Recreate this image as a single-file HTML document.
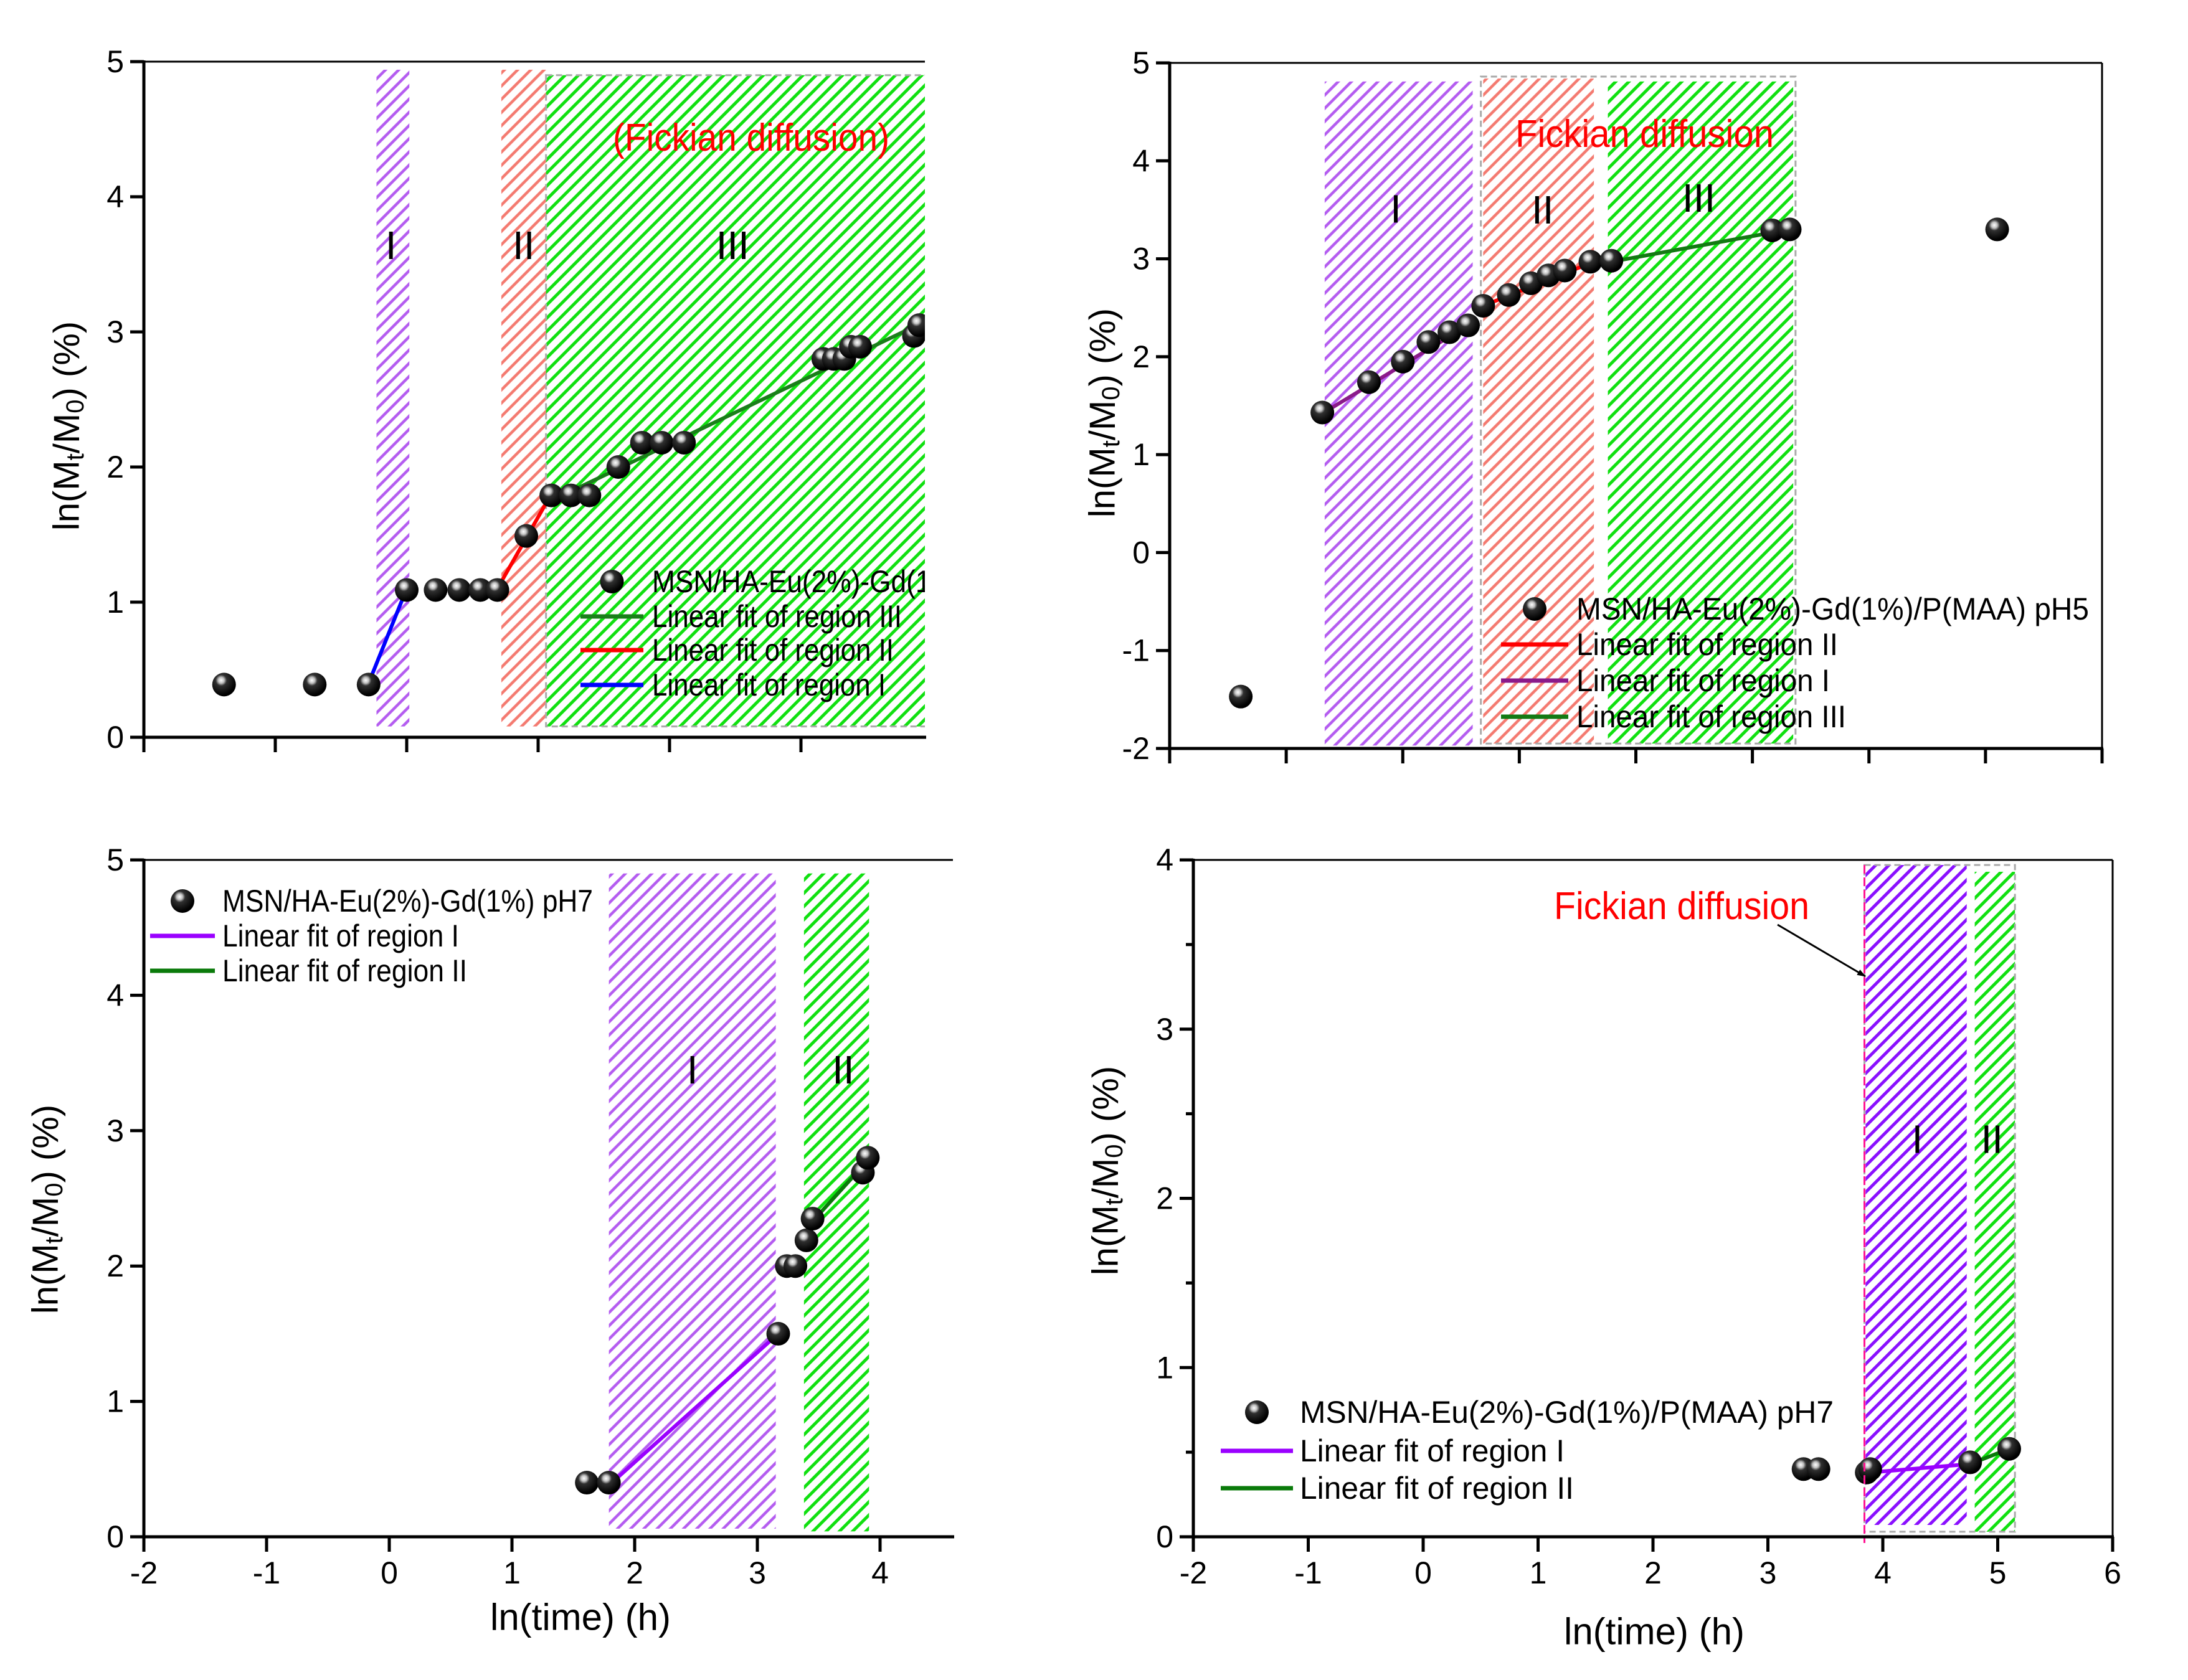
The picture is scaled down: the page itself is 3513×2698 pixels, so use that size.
<!DOCTYPE html>
<html><head><meta charset="utf-8"><style>
html,body{margin:0;padding:0;background:#fff;}
svg{display:block;font-family:"Liberation Sans Narrow","Liberation Sans",sans-serif;}
</style></head><body>
<svg id="fig" width="3513" height="2698" viewBox="0 0 3513 2698" xmlns="http://www.w3.org/2000/svg">
<defs>
<radialGradient id="ball" cx="0.38" cy="0.32" r="0.62">
<stop offset="0" stop-color="#ffffff"/><stop offset="0.2" stop-color="#c0c0c0"/><stop offset="0.38" stop-color="#303030"/><stop offset="1" stop-color="#000"/>
</radialGradient>
<pattern id="h-purple" patternUnits="userSpaceOnUse" width="30" height="15" patternTransform="rotate(-45)"><rect width="30" height="15" fill="#fff"/><line x1="0" y1="7" x2="30" y2="7" stroke="#b45cf0" stroke-width="4.5"/></pattern>
<pattern id="h-purple2" patternUnits="userSpaceOnUse" width="30" height="15" patternTransform="rotate(-45)"><rect width="30" height="15" fill="#fff"/><line x1="0" y1="7" x2="30" y2="7" stroke="#8a10ff" stroke-width="5"/></pattern>
<pattern id="h-red" patternUnits="userSpaceOnUse" width="30" height="15" patternTransform="rotate(-45)"><rect width="30" height="15" fill="#fff"/><line x1="0" y1="7" x2="30" y2="7" stroke="#f47a70" stroke-width="4.5"/></pattern>
<pattern id="h-green" patternUnits="userSpaceOnUse" width="30" height="15" patternTransform="rotate(-45)"><rect width="30" height="15" fill="#fff"/><line x1="0" y1="7" x2="30" y2="7" stroke="#11e011" stroke-width="5"/></pattern>
<marker id="arrowhead" markerWidth="14" markerHeight="10" refX="13" refY="5" orient="auto" markerUnits="userSpaceOnUse"><path d="M0,0 L14,5 L0,10 z" fill="#000"/></marker>
</defs>
</svg>
<script>
// ---------- Panel 1 data ----------
const p1X = [-1.39,-0.70,-0.29,0.0,0.22,0.40,0.56,0.69,0.91,1.10,1.25,1.39,1.61,1.79,1.94,2.11,3.17,3.25,3.33,3.38,3.45,3.86,3.90];
const p1Y = [0.39,0.39,0.39,1.09,1.09,1.09,1.09,1.09,1.49,1.79,1.79,1.79,2.00,2.18,2.18,2.18,2.80,2.80,2.80,2.89,2.89,2.97,3.05];
const p1FitX = [[-0.29,0.0],[0.69,1.10],[1.10,3.95]];
const p1FitY = [[0.40,1.10],[1.10,1.80],[1.75,3.08]];
// ---------- Panel 2 data ----------
const p2X = [-1.39,-0.69,-0.29,0.0,0.22,0.40,0.56,0.69,0.91,1.10,1.25,1.39,1.61,1.79,3.17,3.32,5.10];
const p2Y = [-1.47,1.43,1.74,1.95,2.15,2.25,2.32,2.52,2.63,2.75,2.83,2.88,2.97,2.98,3.29,3.30,3.30];
const p2FitX = [[0.69,1.64],[-0.69,0.56],[1.79,3.32]];
const p2FitY = [[2.52,2.97],[1.42,2.32],[2.97,3.30]];
// ---------- Panel 3 data ----------
const p3X = [1.61,1.79,3.17,3.24,3.31,3.40,3.45,3.86,3.90];
const p3Y = [0.40,0.40,1.50,2.00,2.00,2.19,2.35,2.69,2.80];
const p3FitX = [[1.79,3.17],[3.45,3.90]];
const p3FitY = [[0.38,1.50],[2.33,2.78]];
// ---------- Panel 4 data ----------
const p4X = [3.31,3.44,3.86,3.89,4.76,5.10];
const p4Y = [0.40,0.40,0.38,0.40,0.44,0.52];
const p4FitX = [[3.89,4.76],[4.76,5.10]];
const p4FitY = [[0.38,0.43],[0.43,0.52]];
// tick labels
const xTickLabels = ["-2","-1","0","1","2","3","4","5","6"];

const NS = "http://www.w3.org/2000/svg";
const svg = document.getElementById('fig');
function mk(tag, attrs, parent){const e=document.createElementNS(NS,tag);for(const k in attrs)e.setAttribute(k,attrs[k]);(parent||svg).appendChild(e);return e;}

function panel(c){
  const g = mk('g',{});
  
  
  const sx = v => c.L + (v - c.xmin) * (c.R - c.L) / (c.xmax - c.xmin);
  const sy = v => c.B - (v - c.ymin) * (c.B - c.T) / (c.ymax - c.ymin);
  const clipId = c.name + '-clip';
  const cp = mk('clipPath',{id:clipId},g); mk('rect',{x:c.L,y:c.T,width:c.R-c.L,height:c.B-c.T},cp);
  const plot = mk('g',{'clip-path':'url(#'+clipId+')'},g);
  
  
  c.regions.forEach((r,i)=>{
    const rc = mk('rect',{x:sx(r[0]),y:sy(r[3]),width:sx(r[1])-sx(r[0]),height:sy(r[2])-sy(r[3]),fill:'url(#'+r[4]+')'},plot);
    
    
  });
  (c.boxes||[]).forEach(b=>{
    const bx = mk('rect',{x:sx(b[0]),y:sy(b[3]),width:sx(b[1])-sx(b[0]),height:sy(b[2])-sy(b[3]),fill:'none',stroke:'#aaa','stroke-width':3,'stroke-dasharray':'10,6'},plot);
    
    
  });
  if(c.vline){
    const vl = mk('line',{x1:sx(c.vline[0]),x2:sx(c.vline[0]),y1:sy(c.vline[1]),y2:c.B+10,stroke:'#ff1493','stroke-width':3,'stroke-dasharray':'14,6'},g);
    
    
  }
  c.rlabels.forEach(l=>{
    const t = mk('text',{x:sx(l[1]),y:sy(l[2]),'font-size':64,'text-anchor':'middle','dominant-baseline':'central',fill:'#000'},plot);
    t.textContent = l[0];
    
    
  });
  c.fitX.forEach((fx,i)=>{
    const fy = c.fitY[i];
    const ln = mk('line',{x1:sx(fx[0]),y1:sy(fy[0]),x2:sx(fx[1]),y2:sy(fy[1]),stroke:c.fitColors[i],'stroke-width':6},plot);
    
    
  });
  c.X.forEach((xv,i)=>{
    const pt = mk('circle',{cx:sx(xv),cy:sy(c.Y[i]),r:19,fill:'url(#ball)'},plot);
    
    
  });
  if(c.fick){
    const t = mk('text',{x:c.fick.x,y:c.fick.y,'font-size':62,fill:'#ff0000',textLength:c.fick.w,lengthAdjust:'spacingAndGlyphs'},plot);
    t.textContent = c.fick.text;
    
    
  }
  const lg = mk('g',{},plot);
  
  
  c.legend.forEach(e=>{
    if(e.type==='ball'){
      const b = mk('circle',{cx:(e.lx0+e.lx1)/2,cy:e.y,r:19,fill:'url(#ball)'},lg);
      
      
    } else {
      const l = mk('line',{x1:e.lx0,x2:e.lx1,y1:e.y,y2:e.y,stroke:e.color,'stroke-width':7},lg);
      
      
    }
    const t = mk('text',{x:e.tx,y:e.y,'font-size':50,'dominant-baseline':'central',fill:'#000',textLength:e.w,lengthAdjust:'spacingAndGlyphs'},lg);
    t.textContent = e.text;
    
    
  });
  const top = mk('line',{x1:c.L,x2:c.R,y1:c.T,y2:c.T,stroke:'#000','stroke-width':3},g);
  
  
  if(c.rightFrame){
    const rf = mk('line',{x1:c.R,x2:c.R,y1:c.T,y2:c.B,stroke:'#000','stroke-width':3},g);
    
    
  }
  const ya = mk('line',{x1:c.L,x2:c.L,y1:c.T-2,y2:c.B+2,stroke:'#000','stroke-width':5},g);
  
  
  const xa = mk('line',{x1:c.L-22,x2:c.R+2,y1:c.B,y2:c.B,stroke:'#000','stroke-width':5},g);
  
  
  for(let v=c.ymin; v<=c.ymax+1e-9; v+=1){
    const y = sy(v);
    const tk = mk('line',{x1:c.L-22,x2:c.L,y1:y,y2:y,stroke:'#000','stroke-width':5},g);
    
    
    const t = mk('text',{x:c.L-32,y:y,'font-size':50,'text-anchor':'end','dominant-baseline':'central',fill:'#000'},g);
    t.textContent = String(v);
    
    
    if(c.minorY && v+0.5<=c.ymax){
      const ym = sy(v+0.5);
      const mt = mk('line',{x1:c.L-12,x2:c.L,y1:ym,y2:ym,stroke:'#000','stroke-width':5},g);
      
      
    }
  }
  for(let i=0;i<xTickLabels.length;i++){
    const v = Number(xTickLabels[i]);
    if(v < c.xmin-1e-9 || v > c.xmax+1e-9) continue;
    const x = sx(v);
    const tk = mk('line',{x1:x,x2:x,y1:c.B,y2:c.B+24,stroke:'#000','stroke-width':5},g);
    
    
    if(c.xLabels){
      const t = mk('text',{x:x,y:c.B+58,'font-size':50,'text-anchor':'middle','dominant-baseline':'central',fill:'#000'},g);
      t.textContent = xTickLabels[i];
      
      
    }
  }
  const yt = mk('text',{x:0,y:0,'font-size':58,'text-anchor':'middle','dominant-baseline':'central',fill:'#000',transform:'translate('+c.ytx+','+c.yty+') rotate(-90)'},g);
  
  
  yt.innerHTML = 'ln(M<tspan font-size="40" dy="14">t</tspan><tspan dy="-14">/M</tspan><tspan font-size="40" dy="14">0</tspan><tspan dy="-14">)  (%)</tspan>';
  if(c.xtitle){
    const xt = mk('text',{x:c.xtitle[0],y:c.xtitle[1],'font-size':60,'text-anchor':'middle','dominant-baseline':'central',fill:'#000'},g);
    xt.textContent = 'ln(time) (h)';
    
    
  }
  return {sx, sy, g};
}

panel({name:'panel-msn-ha-pH5', L:231, R:1485, T:99, B:1184, xmin:-2, xmax:-2+(1485-231)/211, ymin:0, ymax:5,
  X:p1X, Y:p1Y, fitX:p1FitX, fitY:p1FitY, fitColors:['#0000ff','#ff0000','#1a7f1a'],
  regions:[[-0.23,0.02,0.08,4.94,'h-purple'],[0.72,1.06,0.08,4.94,'h-red'],[1.06,4.2,0.08,4.9,'h-green']],
  boxes:[[1.06,4.2,0.08,4.9]],
  rlabels:[['I',-0.12,3.64],['II',0.89,3.64],['III',2.48,3.64]],
  fick:{text:'(Fickian diffusion)',x:984,y:242,w:444},
  legend:[
    {type:'ball',lx0:932,lx1:1033,y:934,tx:1047,w:595,text:'MSN/HA-Eu(2%)-Gd(1%) pH5'},
    {type:'line',color:'#1a7f1a',lx0:932,lx1:1033,y:990,tx:1047,w:401,text:'Linear fit of region III'},
    {type:'line',color:'#ff0000',lx0:932,lx1:1033,y:1044,tx:1047,w:388,text:'Linear fit of region II'},
    {type:'line',color:'#0000ff',lx0:932,lx1:1033,y:1100,tx:1047,w:375,text:'Linear fit of region I'}],
  ytx:107, yty:684, xLabels:false});

panel({name:'panel-msn-ha-pmaa-pH5', L:1878, R:3375, T:101, B:1202, xmin:-2, xmax:6, ymin:-2, ymax:5,
  X:p2X, Y:p2Y, fitX:p2FitX, fitY:p2FitY, fitColors:['#ff0000','#8b1a8b','#137a13'],
  regions:[[-0.67,0.60,-1.97,4.81,'h-purple'],[0.69,1.64,-1.95,4.84,'h-red'],[1.76,3.35,-1.95,4.81,'h-green']],
  boxes:[[0.67,3.37,-1.95,4.86]],
  rlabels:[['I',-0.06,3.51],['II',1.2,3.5],['III',2.54,3.62]],
  fick:{text:'Fickian diffusion',x:2433,y:236,w:415},
  legend:[
    {type:'ball',lx0:2410,lx1:2518,y:978,tx:2531,w:823,text:'MSN/HA-Eu(2%)-Gd(1%)/P(MAA) pH5'},
    {type:'line',color:'#ff0000',lx0:2410,lx1:2518,y:1035,tx:2531,w:420,text:'Linear fit of region II'},
    {type:'line',color:'#8b1a8b',lx0:2410,lx1:2518,y:1093,tx:2531,w:407,text:'Linear fit of region I'},
    {type:'line',color:'#137a13',lx0:2410,lx1:2518,y:1151,tx:2531,w:433,text:'Linear fit of region III'}],
  ytx:1770, yty:663, xLabels:false, rightFrame:true});

panel({name:'panel-msn-ha-pH7', L:231, R:1530, T:1381, B:2468, xmin:-2, xmax:-2+(1530-231)/197, ymin:0, ymax:5,
  X:p3X, Y:p3Y, fitX:p3FitX, fitY:p3FitY, fitColors:['#9a00ff','#0a7a0a'],
  regions:[[1.79,3.15,0.06,4.9,'h-purple'],[3.38,3.91,0.04,4.9,'h-green']],
  rlabels:[['I',2.47,3.45],['II',3.70,3.45]],
  legend:[
    {type:'ball',lx0:241,lx1:345,y:1447,tx:357,w:595,text:'MSN/HA-Eu(2%)-Gd(1%) pH7'},
    {type:'line',color:'#9a00ff',lx0:241,lx1:345,y:1503,tx:357,w:380,text:'Linear fit of region I'},
    {type:'line',color:'#0a7a0a',lx0:241,lx1:345,y:1559,tx:357,w:393,text:'Linear fit of region II'}],
  ytx:73, yty:1942, xLabels:true, xtitle:[932,2597]});

const p4 = panel({name:'panel-msn-ha-pmaa-pH7', L:1916, R:3392, T:1381, B:2468, xmin:-2, xmax:6, ymin:0, ymax:4, minorY:true,
  X:p4X, Y:p4Y, fitX:p4FitX, fitY:p4FitY, fitColors:['#9a00ff','#0a7a0a'],
  regions:[[3.85,4.73,0.07,3.97,'h-purple2'],[4.80,5.15,0.03,3.93,'h-green']],
  boxes:[[3.84,5.15,0.03,3.97]],
  vline:[3.84,3.97],
  rlabels:[['I',4.30,2.35],['II',4.95,2.35]],
  fick:{text:'Fickian diffusion',x:2495,y:1476,w:410},
  legend:[
    {type:'ball',lx0:1960,lx1:2076,y:2268,tx:2087,w:857,text:'MSN/HA-Eu(2%)-Gd(1%)/P(MAA) pH7'},
    {type:'line',color:'#9a00ff',lx0:1960,lx1:2076,y:2330,tx:2087,w:425,text:'Linear fit of region I'},
    {type:'line',color:'#0a7a0a',lx0:1960,lx1:2076,y:2390,tx:2087,w:440,text:'Linear fit of region II'}],
  ytx:1775, yty:1880, xLabels:true, xtitle:[2656,2620], rightFrame:true});
const arrow = mk('line',{x1:2854,y1:1485,x2:2995,y2:1568,stroke:'#000','stroke-width':3,'marker-end':'url(#arrowhead)'},p4.g);


</script>
</body></html>
